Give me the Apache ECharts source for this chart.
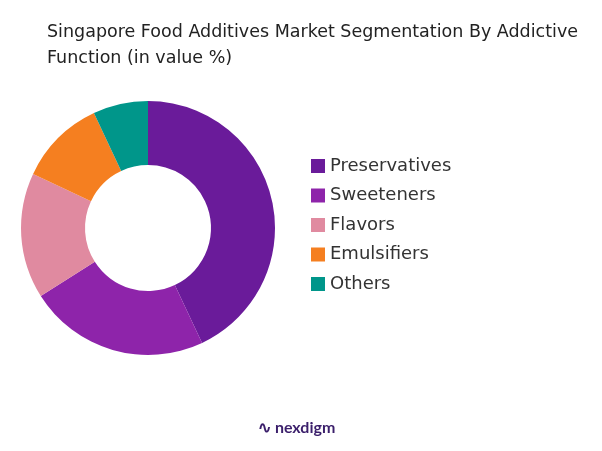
<!DOCTYPE html>
<html><head><meta charset="utf-8">
<script src="https://cdn.jsdelivr.net/npm/echarts@6/dist/echarts.min.js"></script>
<style>html,body{margin:0;padding:0;background:#fff}#c{width:602px;height:451px}</style>
</head><body><div id="c"></div>
<script>
var categories = ['Preservatives', 'Sweeteners', 'Flavors', 'Emulsifiers', 'Others'];
var values = [43, 23, 16, 11, 7];
var colors = ['#6a1b9a', '#8e24aa', '#e08aa0', '#f57f20', '#00968a'];

var chart = echarts.init(document.getElementById('c'));
chart.setOption({
    animation: false,
    title: {
        text: 'Singapore Food Additives Market Segmentation By Addictive\nFunction (in value %)',
        left: 42, top: 14,
        textStyle: {fontFamily: 'DejaVu Sans', fontWeight: 'normal', fontSize: 17.5, color: '#222', lineHeight: 26}
    },
    legend: {
        orient: 'vertical', left: 306, top: 152, itemGap: 11.5,
        itemWidth: 14, itemHeight: 14, icon: 'rect',
        textStyle: {fontFamily: 'DejaVu Sans', fontSize: 18, color: '#333'},
        data: categories
    },
    color: colors,
    series: [{
        type: 'pie',
        center: [148, 228],
        radius: [63, 127],
        startAngle: 90,
        label: {show: false},
        data: categories.map(function (n, i) { return {name: n, value: values[i]}; })
    }],
    graphic: [{
        type: 'text', left: 258, top: 420,
        style: {text: '∿ nexdigm', fontFamily: 'Lato', fontSize: 16, fontWeight: 'bold', fill: '#3b1f6b'}
    }]
});
</script></body></html>
